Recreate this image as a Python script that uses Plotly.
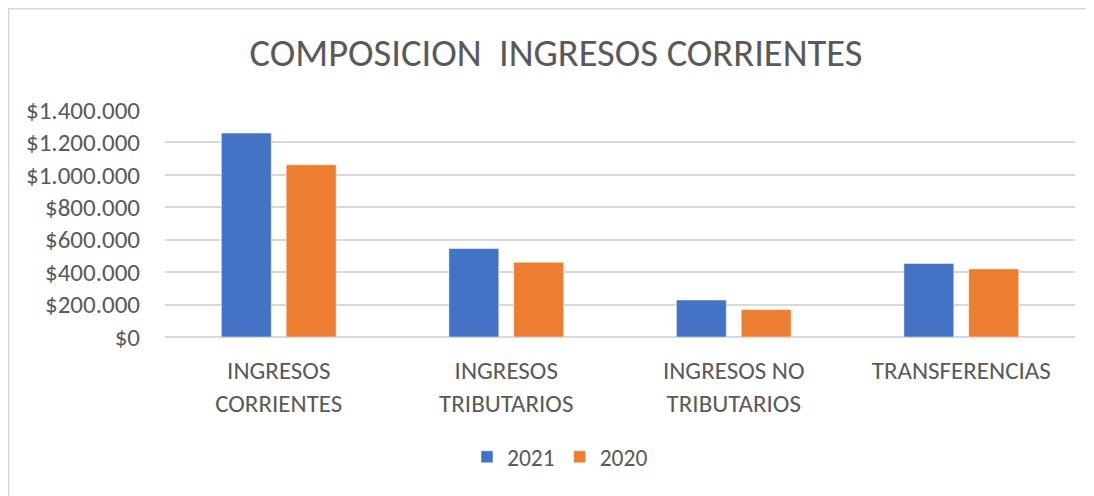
import plotly.graph_objects as go

categories = ["INGRESOS<br>CORRIENTES", "INGRESOS<br>TRIBUTARIOS", "INGRESOS NO<br>TRIBUTARIOS", "TRANSFERENCIAS"]
values_2021 = [1258000, 546000, 228000, 453000]
values_2020 = [1062000, 461000, 169000, 420000]
tick_values = [0, 200000, 400000, 600000, 800000, 1000000, 1200000, 1400000]
tick_labels = ["$0", "$200.000", "$400.000", "$600.000", "$800.000", "$1.000.000", "$1.200.000", "$1.400.000"]

FONT = "Carlito, 'Liberation Sans Narrow', 'DejaVu Sans Condensed', 'Open Sans', sans-serif"
GRAY = "#595959"

# page has an 8px body margin; figure sized/margined to compensate
W, H = 1086, 488
L, R, T, B = 157, 19, 102, 159
PW, PH = W - L - R, H - T - B

fig = go.Figure()
fig.add_trace(go.Bar(name="2021", x=categories, y=values_2021, marker=dict(color="#4472C4", line=dict(color="#ffffff", width=0.5))))
fig.add_trace(go.Bar(name="2020", x=categories, y=values_2020, marker=dict(color="#ED7D31", line=dict(color="#ffffff", width=0.5))))

fig.update_layout(
    width=W, height=H,
    margin=dict(l=L, r=R, t=T, b=B),
    paper_bgcolor="white", plot_bgcolor="white",
    barmode="group", bargap=0.43, bargroupgap=0.23,
    font=dict(family=FONT, color=GRAY, size=25),
    title=dict(text="COMPOSICION  INGRESOS CORRIENTES", x=0.5046, xanchor="center", y=1 - 45 / H, yanchor="middle",
               font=dict(family=FONT, size=38.5, color=GRAY)),
    showlegend=True,
    legend=dict(orientation="h", x=(552 - L) / PW, xanchor="center", y=-(449 - (T + PH)) / PH, yanchor="middle",
                font=dict(family=FONT, size=23.5, color=GRAY), itemwidth=30, traceorder="normal"),
    xaxis=dict(showline=False, showgrid=False, ticks="", tickfont=dict(size=25, color=GRAY), ticklabelstandoff=16),
    yaxis=dict(range=[0, 1400000], tickvals=tick_values, ticktext=tick_labels, showgrid=True,
               gridcolor="#d9d9d9", gridwidth=1.5, zeroline=True, zerolinecolor="#d9d9d9", zerolinewidth=1.5,
               showline=False, ticks="", ticklabelstandoff=24, tickfont=dict(size=25, color=GRAY)),
    shapes=[
        dict(type="line", xref="paper", yref="paper", x0=-L / PW, x1=(W - L) / PW,
             y0=1 + (T - 0.5) / PH, y1=1 + (T - 0.5) / PH, line=dict(color="#d9d9d9", width=2)),
        dict(type="line", xref="paper", yref="paper", x0=-(L - 0.5) / PW, x1=-(L - 0.5) / PW,
             y0=1 + T / PH, y1=-B / PH, line=dict(color="#d9d9d9", width=2)),
    ],
)

fig.write_html("out.html")
